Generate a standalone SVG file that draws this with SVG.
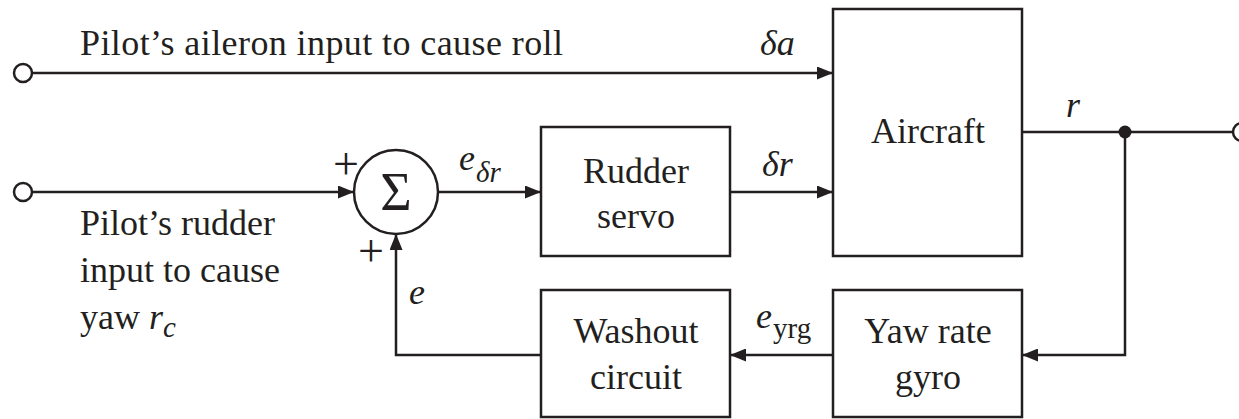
<svg xmlns="http://www.w3.org/2000/svg" width="1239" height="419" viewBox="0 0 1239 419">
<style>
text{font-family:"Liberation Serif","Times New Roman",serif;fill:#231f20;font-size:36px}
.it{font-style:italic}
.sub{font-size:29px}
.box{fill:#fff;stroke:#231f20;stroke-width:2.5}
.ln{fill:none;stroke:#231f20;stroke-width:2.5}
.term{fill:#fff;stroke:#231f20;stroke-width:2.5}
.mid{text-anchor:middle}
.pm{font-size:46px;text-anchor:middle}
.sig{font-size:54px;text-anchor:middle}
</style>
<defs>
<marker id="arr" viewBox="0 0 16 13" refX="16" refY="6.5" markerWidth="16" markerHeight="13" markerUnits="userSpaceOnUse" orient="auto">
<path d="M0,0 L16,6.5 L0,13 z" fill="#231f20"/>
</marker>
</defs>
<rect width="1239" height="419" fill="#fff"/>
<g id="connectors">
<line class="ln" x1="32" y1="73" x2="833" y2="73" marker-end="url(#arr)"/>
<line class="ln" x1="32" y1="192" x2="354" y2="192" marker-end="url(#arr)"/>
<line class="ln" x1="438" y1="192" x2="541" y2="192" marker-end="url(#arr)"/>
<line class="ln" x1="730" y1="192" x2="833" y2="192" marker-end="url(#arr)"/>
<line class="ln" x1="1022" y1="132" x2="1233" y2="132"/>
<polyline class="ln" points="1125,132 1125,355 1022,355" marker-end="url(#arr)"/>
<line class="ln" x1="833" y1="355" x2="730" y2="355" marker-end="url(#arr)"/>
<polyline class="ln" points="541,355 396,355 396,234" marker-end="url(#arr)"/>
<circle cx="1125" cy="132" r="6.5" fill="#231f20"/>
<circle class="term" cx="23" cy="73" r="9"/>
<circle class="term" cx="23" cy="192" r="9"/>
<circle class="term" cx="1242" cy="132" r="9"/>
</g>
<g id="labels">
<text x="80" y="55" textLength="483">Pilot’s aileron input to cause roll</text>
<text class="it" x="760" y="55">δa</text>
<text class="it" x="762" y="176">δr</text>
<text class="it" x="1066" y="117">r</text>
<text class="it" x="459" y="170">e</text>
<text class="it sub" x="476" y="182">δr</text>
<text class="it" x="409" y="304">e</text>
<text class="it" x="756" y="328">e</text>
<text class="sub" x="773" y="338">yrg</text>
<text class="pm" x="346" y="179">+</text>
<text class="pm" x="371" y="266">+</text>
<text x="80" y="235">Pilot’s rudder</text>
<text x="80" y="282">input to cause</text>
<text x="80" y="329">yaw <tspan class="it">r</tspan><tspan class="it sub" dy="8">c</tspan></text>
</g>
<g id="sum">
<circle class="box" cx="396" cy="192" r="42"/>
<text class="sig" x="396" y="210">Σ</text>
</g>
<g id="rudder-servo">
<rect class="box" x="541" y="127" width="189" height="129"/>
<text class="mid" x="636" y="183">Rudder</text>
<text class="mid" x="636" y="228">servo</text>
</g>
<g id="aircraft">
<rect class="box" x="833" y="9" width="189" height="247"/>
<text class="mid" x="928" y="143">Aircraft</text>
</g>
<g id="washout">
<rect class="box" x="541" y="290" width="189" height="127"/>
<text class="mid" x="636" y="343">Washout</text>
<text class="mid" x="636" y="389">circuit</text>
</g>
<g id="yaw-rate-gyro">
<rect class="box" x="833" y="290" width="189" height="127"/>
<text class="mid" x="928" y="343">Yaw rate</text>
<text class="mid" x="928" y="389">gyro</text>
</g>
</svg>
